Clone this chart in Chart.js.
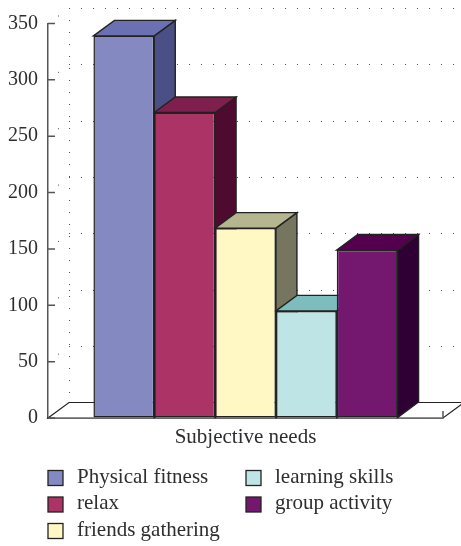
<!DOCTYPE html>
<html>
<head>
<meta charset="utf-8">
<style>
  html, body { margin: 0; padding: 0; background: #fff; }
  canvas { display: block; }
</style>
<script src="https://cdn.jsdelivr.net/npm/chart.js@4/dist/chart.umd.min.js"></script>
</head>
<body>
<canvas id="canvas" width="461" height="546"></canvas>
<script>
var categories = ['Subjective needs'];
var needNames = ['Physical fitness', 'relax', 'friends gathering', 'learning skills', 'group activity'];
var needValues = [339, 271, 168.5, 95, 149];
var yTicks = [0, 50, 100, 150, 200, 250, 300, 350];

var frontColors = ['#8589C1', '#AC3366', '#FFF8C4', '#BFE4E6', '#74176E'];
var topColors = ['#6A70B2', '#7E1F4E', '#B5B58F', '#7DBDBD', '#54004F'];
var sideColors = ['#4A4F85', '#4F0A30', '#767660', '#4F7F80', '#2F0033'];

var FONT = '"Liberation Serif", serif';
var INK = '#2e2e2e';
var EDGE = '#222';
var DEPTH_X = 21, DEPTH_Y = 15.5;

function poly(ctx, pts, fill, stroke, lw) {
  ctx.beginPath();
  ctx.moveTo(pts[0][0], pts[0][1]);
  for (var i = 1; i < pts.length; i++) ctx.lineTo(pts[i][0], pts[i][1]);
  ctx.closePath();
  if (fill) { ctx.fillStyle = fill; ctx.fill(); }
  if (stroke) { ctx.strokeStyle = stroke; ctx.lineWidth = lw; ctx.stroke(); }
}

// back wall dots, floor and the side/top faces of the bars
var box3d = {
  id: 'box3d',
  beforeDatasetsDraw: function(chart) {
    var ctx = chart.ctx, y = chart.scales.y, area = chart.chartArea;
    var backX = area.left + DEPTH_X;
    ctx.save();

    // dotted wall
    ctx.fillStyle = '#555';
    yTicks.forEach(function(v) {
      if (v === 0) return;
      var py = y.getPixelForValue(v);
      ctx.fillRect(area.left + 10, py - 8, 1, 1);
      for (var x = backX; x < chart.width - 6; x += 12) {
        ctx.fillRect(Math.round(x), Math.round(py - DEPTH_Y), 1, 1);
      }
    });
    for (var dy = y.getPixelForValue(350) - DEPTH_Y; dy < area.bottom - DEPTH_Y - 4; dy += 12) {
      ctx.fillRect(backX, Math.round(dy), 1, 1);
    }

    // floor
    poly(ctx, [
      [area.left, area.bottom],
      [backX, area.bottom - DEPTH_Y],
      [area.right + DEPTH_X, area.bottom - DEPTH_Y],
      [area.right, area.bottom]
    ], '#fff', EDGE, 1.2);

    // left to right, so each bar's faces sit over the previous one
    needValues.forEach(function(v, i) {
      var bar = chart.getDatasetMeta(i).data[0];
      var l = bar.x - bar.width / 2, r = bar.x + bar.width / 2;
      poly(ctx, [
        [r, bar.y], [r + DEPTH_X, bar.y - DEPTH_Y],
        [r + DEPTH_X, bar.base - DEPTH_Y], [r, bar.base]
      ], sideColors[i], EDGE, 1.4);
      poly(ctx, [
        [l, bar.y], [l + DEPTH_X, bar.y - DEPTH_Y],
        [r + DEPTH_X, bar.y - DEPTH_Y], [r, bar.y]
      ], topColors[i], EDGE, 1.4);
    });
    ctx.restore();
  },
  afterDraw: function(chart) {
    var ctx = chart.ctx, y = chart.scales.y, area = chart.chartArea;
    ctx.save();

    // inward ticks on the value axis
    ctx.strokeStyle = '#555';
    ctx.lineWidth = 1.5;
    ctx.beginPath();
    yTicks.forEach(function(v) {
      var py = y.getPixelForValue(v);
      ctx.moveTo(area.left, py);
      ctx.lineTo(area.left + 7, py);
    });
    ctx.moveTo(area.right, area.bottom);
    ctx.lineTo(area.right, area.bottom - 7);
    ctx.stroke();

    // legend, three rows then two
    ctx.font = '21px ' + FONT;
    ctx.textBaseline = 'middle';
    needNames.forEach(function(name, i) {
      var col = i < 3 ? 0 : 1;
      var row = i < 3 ? i : i - 3;
      var lx = col === 0 ? 48 : 246;
      var ly = 478 + row * 26.5;
      ctx.fillStyle = frontColors[i];
      ctx.fillRect(lx, ly - 7.5, 15, 15);
      ctx.strokeStyle = EDGE;
      ctx.lineWidth = 1.3;
      ctx.strokeRect(lx, ly - 7.5, 15, 15);
      ctx.fillStyle = INK;
      ctx.fillText(name, lx + 29, ly - 1);
    });
    ctx.restore();
  }
};

var barChartData = {
  labels: categories,
  datasets: needNames.map(function(name, i) {
    return {
      label: name,
      data: [needValues[i]],
      backgroundColor: frontColors[i],
      borderColor: EDGE,
      borderWidth: 1.5,
      borderSkipped: false
    };
  })
};

var ctx = document.getElementById('canvas').getContext('2d');

window.myBar = new Chart(ctx, {
  type: 'bar',
  data: barChartData,
  plugins: [box3d],
  options: {
    responsive: false,
    animation: false,
    layout: { padding: { top: 23.5, right: 18, bottom: 0, left: 0 } },
    datasets: { bar: { barPercentage: 1, categoryPercentage: 0.77 } },
    plugins: {
      legend: { display: false },
      title: { display: false },
      tooltip: { enabled: false }
    },
    scales: {
      x: {
        afterFit: function(scale) { scale.height = 128; },
        grid: { display: false, drawTicks: false },
        border: { color: '#666', width: 1.5 },
        ticks: { color: INK, padding: 7, maxRotation: 0, font: { family: FONT, size: 21 } }
      },
      y: {
        min: 0,
        max: 350,
        afterFit: function(scale) { scale.width = 48; },
        afterBuildTicks: function(scale) {
          scale.ticks = yTicks.map(function(v) { return { value: v }; });
        },
        grid: { drawOnChartArea: false, drawTicks: false },
        border: { color: '#555', width: 1.5 },
        ticks: { color: INK, padding: 10, font: { family: FONT, size: 20 } }
      }
    }
  }
});
</script>
</body>
</html>
